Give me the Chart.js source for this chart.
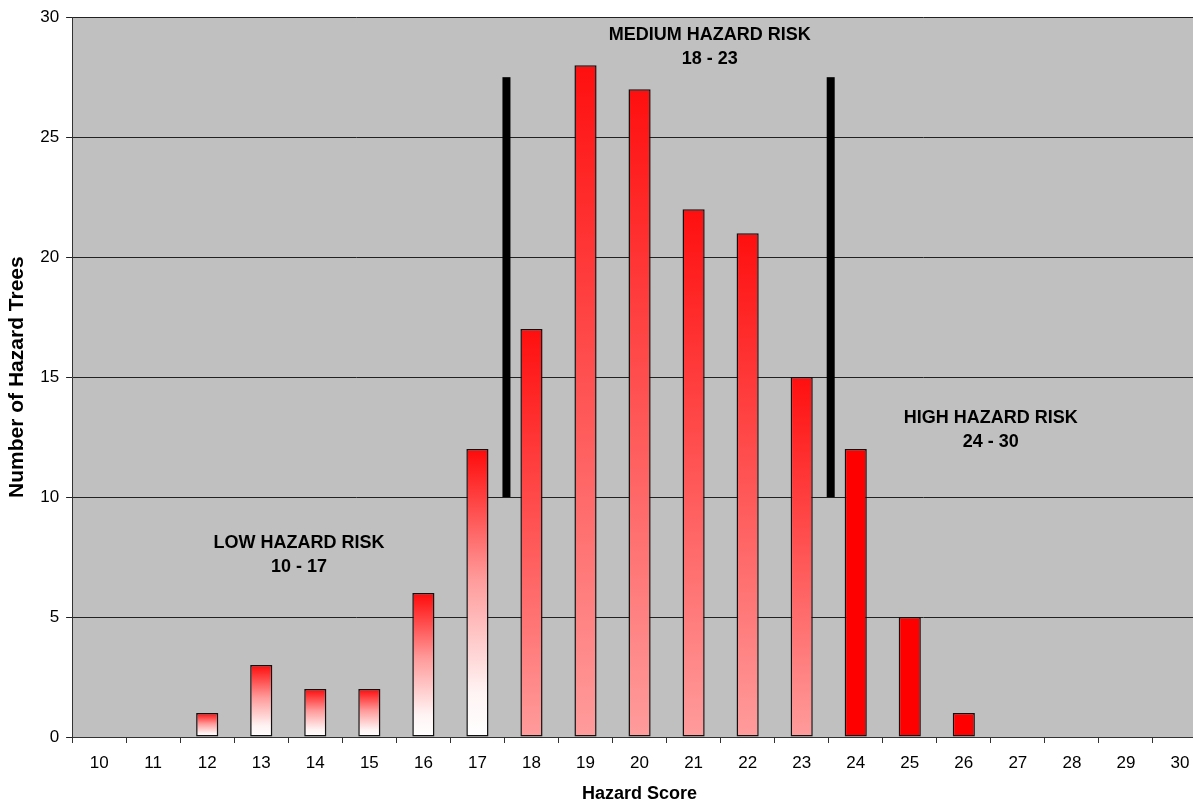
<!DOCTYPE html>
<html>
<head>
<meta charset="utf-8">
<script src="https://cdn.jsdelivr.net/npm/chart.js@4.4.0/dist/chart.umd.min.js"></script>
<style>
    html, body { margin: 0; padding: 0; background: #fff; overflow: hidden; }
    #wrap { width: 1193px; height: 799px; overflow: hidden; }
</style>
</head>
<body>
<div id="wrap"><canvas id="chart" width="1214" height="805"></canvas></div>
<script>
// Hazard scores and number of trees at each score
const scores = ["10", "11", "12", "13", "14", "15", "16", "17", "18", "19", "20",
                "21", "22", "23", "24", "25", "26", "27", "28", "29", "30"];
const treeCounts = [0, 0, 1, 3, 2, 2, 6, 12, 17, 28, 27, 22, 21, 15, 12, 5, 1, 0, 0, 0, 0];

// Risk band limits (score) and divider lines between bands
const lowMax = 17;
const mediumMax = 23;
const dividerScores = [17.5, 23.5];
const dividerRange = [10, 27.5];

// Band labels: [line1, line2, x score, y value]
const bandLabels = [
    ["LOW HAZARD RISK", "10 - 17", 13.7, 8.1],
    ["MEDIUM HAZARD RISK", "18 - 23", 21.3, 29.25],
    ["HIGH HAZARD RISK", "24 - 30", 26.5, 13.3]
];

Chart.defaults.font.family = "'Liberation Sans', Arial, sans-serif";
Chart.defaults.color = "#000";

function barFill(context) {
    const chart = context.chart;
    const area = chart.chartArea;
    const i = context.dataIndex;
    const score = Number(scores[i]);
    const value = treeCounts[i];
    if (score > mediumMax) return "#ff0000";
    if (!area || !value) return "#ff8888";
    const yScale = chart.scales.y;
    const top = yScale.getPixelForValue(value);
    const bottom = yScale.getPixelForValue(0);
    const g = chart.ctx.createLinearGradient(0, top, 0, bottom);
    if (score <= lowMax) {
        g.addColorStop(0, "#ff0a0a");
        g.addColorStop(0.45, "#ff9a9a");
        g.addColorStop(0.85, "#fff4f4");
        g.addColorStop(1, "#ffffff");
    } else {
        g.addColorStop(0, "#ff0f0f");
        g.addColorStop(1, "#ff9c9c");
    }
    return g;
}

const plotBackground = {
    id: "plotBackground",
    beforeDraw(chart) {
        const a = chart.chartArea;
        const ctx = chart.ctx;
        ctx.save();
        ctx.fillStyle = "#c0c0c0";
        ctx.fillRect(a.left, a.top, a.right - a.left, a.bottom - a.top);
        ctx.restore();
    }
};

const bandMarks = {
    id: "bandMarks",
    afterDatasetsDraw(chart) {
        const ctx = chart.ctx;
        const x = chart.scales.x;
        const y = chart.scales.y;
        const first = Number(scores[0]);
        ctx.save();
        // divider lines
        ctx.fillStyle = "#000";
        dividerScores.forEach(s => {
            const px = x.getPixelForValue(s - first) + 2;
            const y1 = y.getPixelForValue(dividerRange[1]);
            const y0 = y.getPixelForValue(dividerRange[0]);
            ctx.fillRect(px - 4, y1, 8, y0 - y1);
        });
        // band labels
        ctx.font = "bold 18px 'Liberation Sans', Arial, sans-serif";
        ctx.textAlign = "center";
        ctx.textBaseline = "middle";
        bandLabels.forEach(b => {
            const px = x.getPixelForValue(b[2] - first);
            const py = y.getPixelForValue(b[3]);
            ctx.fillText(b[0], px, py);
            ctx.fillText(b[1], px, py + 24);
        });
        ctx.restore();
    }
};

new Chart(document.getElementById("chart").getContext("2d"), {
    type: "bar",
    data: {
        labels: scores,
        datasets: [
            {
                label: "Number of Hazard Trees",
                data: treeCounts,
                backgroundColor: barFill,
                borderColor: "#111",
                borderWidth: (ctx) => treeCounts[ctx.dataIndex] ? 1.5 : 0,
                borderSkipped: false,
                barPercentage: 0.82,
                categoryPercentage: 0.5
            }
        ]
    },
    options: {
        responsive: false,
        animation: false,
        devicePixelRatio: 1,
        layout: {
            padding: { top: 11, right: 7, left: 5, bottom: 0 }
        },
        plugins: {
            legend: { display: false },
            tooltip: { enabled: false }
        },
        scales: {
            x: {
                offset: true,
                grid: {
                    offset: true,
                    drawOnChartArea: false,
                    drawTicks: true,
                    tickLength: 6,
                    color: "#333"
                },
                border: { display: true, color: "#333", width: 1 },
                ticks: {
                    font: { size: 17 },
                    padding: 10,
                    maxRotation: 0,
                    autoSkip: false
                },
                title: {
                    display: true,
                    text: "Hazard Score",
                    font: { size: 18, weight: "bold" },
                    padding: { top: 0, bottom: 0 }
                }
            },
            y: {
                min: 0,
                max: 30,
                ticks: {
                    stepSize: 5,
                    font: { size: 17 },
                    padding: 7
                },
                grid: {
                    color: "#222",
                    lineWidth: 1,
                    tickLength: 6
                },
                border: { display: true, color: "#333", width: 1 },
                title: {
                    display: true,
                    text: "Number of Hazard Trees",
                    font: { size: 21, weight: "bold" },
                    padding: { top: 0, bottom: 3 }
                }
            }
        }
    },
    plugins: [plotBackground, bandMarks]
});
</script>
</body>
</html>
